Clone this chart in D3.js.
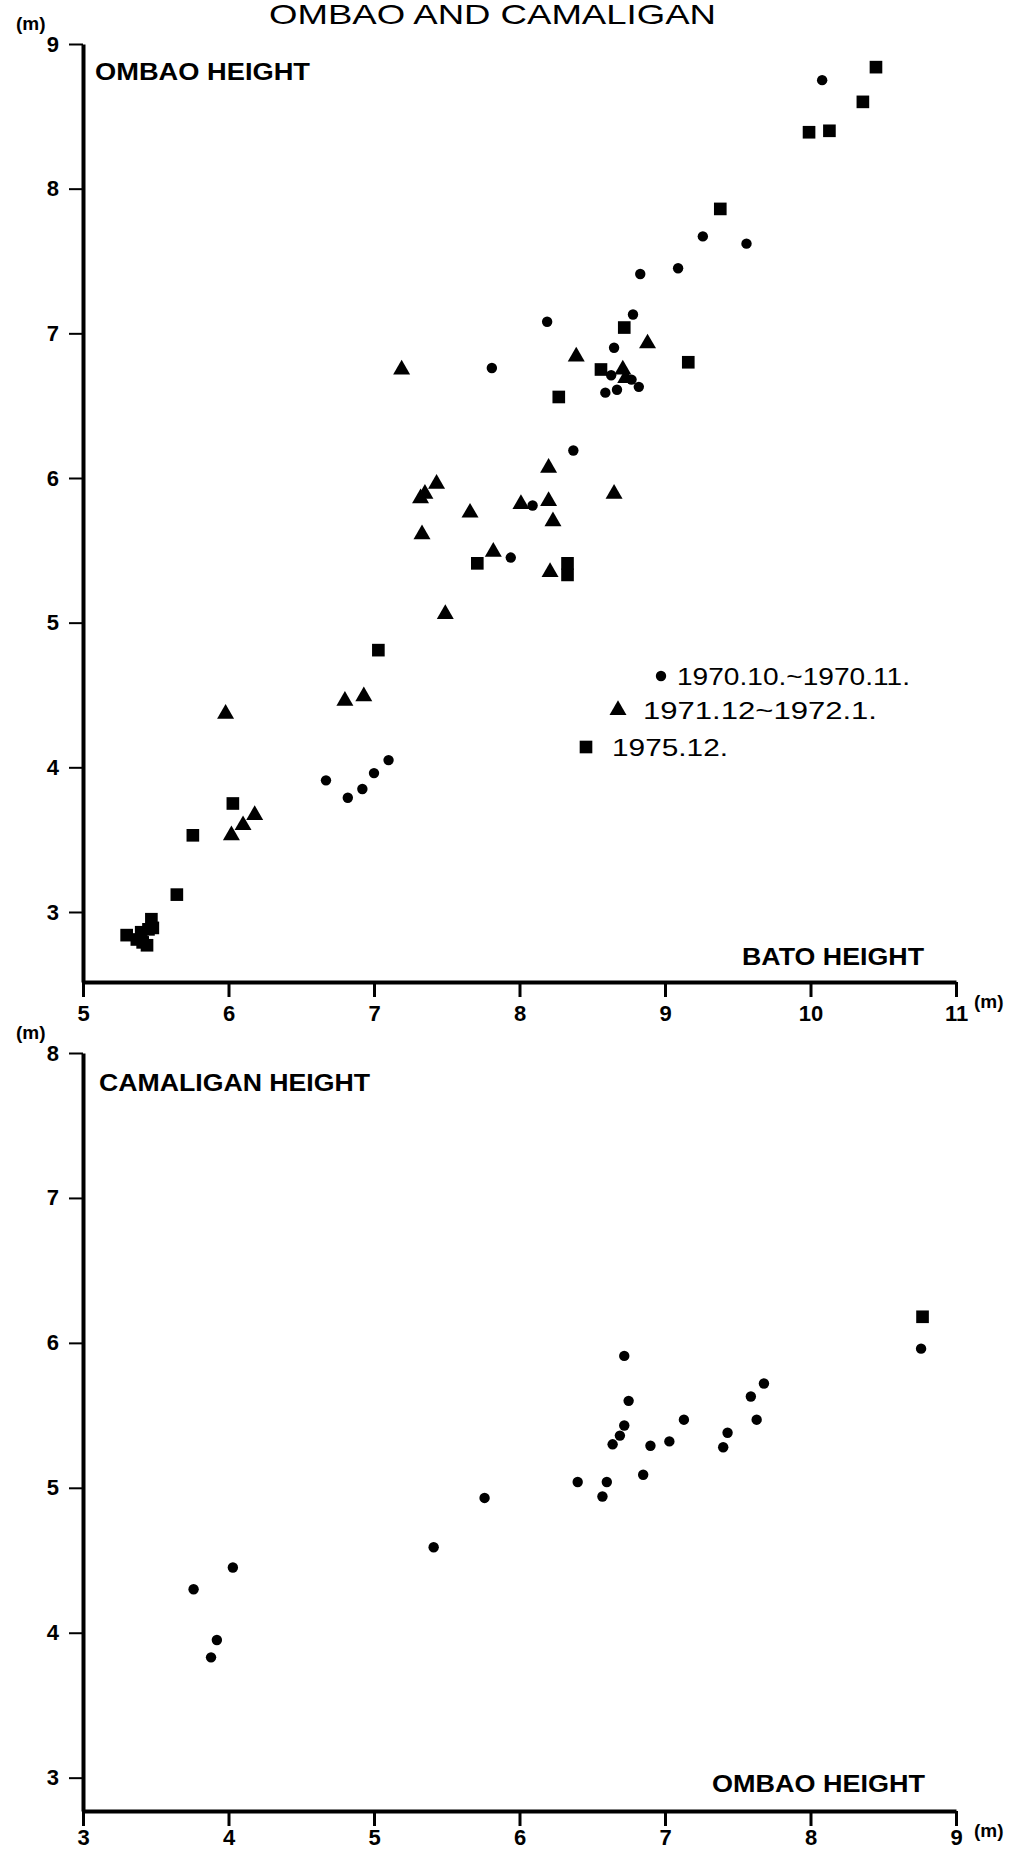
<!DOCTYPE html>
<html>
<head>
<meta charset="utf-8">
<script src="https://cdn.jsdelivr.net/npm/d3@7"></script>
<style>
  body { margin: 0; background: #fff; }
  svg text { font-family: "Liberation Sans Narrow", "Liberation Sans", Arial, sans-serif; fill: #000; }
  .tick text { font-weight: bold; font-size: 22px; }
</style>
</head>
<body>
<div id="chart"></div>
<script>
// ombao vs bato, three survey periods
var batoCircle = [[10.08,8.75],[9.56,7.62],[9.26,7.67],[9.09,7.45],[8.83,7.41],[8.78,7.13],[8.65,6.90],
  [8.63,6.71],[8.67,6.61],[8.59,6.59],[8.77,6.68],[8.82,6.63],[8.19,7.08],[7.81,6.76],[8.37,6.19],
  [8.09,5.81],[7.94,5.45],[6.67,3.91],[6.82,3.79],[6.92,3.85],[7.0,3.96],[7.1,4.05]];
var batoTriangle = [[7.19,6.75],[8.39,6.84],[8.88,6.93],[8.71,6.75],[8.73,6.69],[8.65,5.89],[8.2,6.07],
  [8.2,5.84],[8.23,5.70],[8.01,5.82],[7.66,5.76],[7.43,5.96],[7.35,5.89],[7.32,5.86],[7.33,5.61],
  [7.82,5.49],[8.21,5.35],[7.49,5.06],[6.8,4.46],[6.93,4.49],[5.98,4.37],[6.02,3.53],[6.1,3.6],[6.18,3.67]];
var batoSquare = [[10.45,8.84],[10.36,8.60],[10.13,8.40],[9.99,8.39],[9.38,7.86],[9.16,6.80],[8.72,7.04],
  [8.56,6.75],[8.27,6.56],[7.71,5.41],[8.33,5.41],[8.33,5.33],[7.03,4.81],[6.03,3.75],[5.755,3.53],
  [5.645,3.12],[5.30,2.84],[5.37,2.81],[5.44,2.77],[5.47,2.95],[5.45,2.88],[5.40,2.86],[5.48,2.89],[5.41,2.79]];

// camaligan vs ombao
var ombaoCircle = [[3.76,4.30],[4.03,4.45],[3.92,3.95],[3.88,3.83],[5.41,4.59],[5.76,4.93],[6.40,5.04],
  [6.57,4.94],[6.60,5.04],[6.64,5.30],[6.69,5.36],[6.72,5.43],[6.75,5.60],[6.72,5.91],[6.85,5.09],
  [6.90,5.29],[7.03,5.32],[7.13,5.47],[7.40,5.28],[7.43,5.38],[7.59,5.63],[7.63,5.47],[7.68,5.72],[8.76,5.96]];
var ombaoSquare = [[8.77,6.18]];

var topXTicks = [5,6,7,8,9,10,11];
var topYTicks = [3,4,5,6,7,8,9];
var botXTicks = [3,4,5,6,7,8,9];
var botYTicks = [3,4,5,6,7,8];

var legendLabels = ["1970.10.~1970.11.", "1971.12~1972.1.", "1975.12."];

var width = 1028, height = 1852;

var svg = d3.select("#chart").append("svg")
    .attr("width", width)
    .attr("height", height);

var symCircle = d3.symbol().type(d3.symbolCircle).size(85);
var symTri = d3.symbol().type(d3.symbolTriangle).size(125);
var symSq = d3.symbol().type(d3.symbolSquare).size(160);

// title at the page top
svg.append("text")
    .attr("x", 269).attr("y", 24)
    .attr("textLength", 447).attr("lengthAdjust", "spacingAndGlyphs")
    .style("font-size", "28px")
    .text("OMBAO  AND  CAMALIGAN");

function drawPanel(opt) {
    var x = d3.scaleLinear().domain(opt.xDomain).range([83, 956]);
    var y = d3.scaleLinear().domain(opt.yDomain).range(opt.yRange);

    var yAxis = d3.axisLeft(y).tickValues(opt.yTicks).tickSize(14).tickSizeOuter(0).tickPadding(10)
        .tickFormat(d3.format("d"));
    var gy = svg.append("g")
        .attr("transform", "translate(83,0)")
        .call(yAxis);
    gy.select(".domain").attr("stroke-width", 4);
    gy.selectAll(".tick line").attr("stroke-width", 2);

    var xAxis = d3.axisBottom(x).tickValues(opt.xTicks).tickSize(15).tickSizeOuter(0).tickPadding(opt.xPad)
        .tickFormat(d3.format("d"));
    var gx = svg.append("g")
        .attr("transform", `translate(0, ${opt.yRange[0]})`)
        .call(xAxis);
    gx.select(".domain").attr("stroke-width", 4);
    gx.selectAll(".tick line").attr("stroke-width", 3);

    // (m) unit marks
    svg.append("text").attr("x", 16).attr("y", opt.yRange[1] - 14)
        .style("font-size", "19px").style("font-weight", "bold").text("(m)");
    svg.append("text").attr("x", 974).attr("y", opt.yRange[0] + 26)
        .style("font-size", "19px").style("font-weight", "bold").text("(m)");

    svg.append("text").attr("x", opt.yLabel.x).attr("y", opt.yLabel.y)
        .attr("textLength", opt.yLabel.w).attr("lengthAdjust", "spacingAndGlyphs")
        .style("font-size", "23px").style("font-weight", "bold").text(opt.yLabel.t);
    svg.append("text").attr("x", opt.xLabel.x).attr("y", opt.xLabel.y)
        .attr("textLength", opt.xLabel.w).attr("lengthAdjust", "spacingAndGlyphs")
        .style("font-size", "23px").style("font-weight", "bold").text(opt.xLabel.t);

    opt.series.forEach(function(s) {
        svg.append("g").selectAll("path")
            .data(s.data)
            .enter()
            .append("path")
            .attr("transform", d => `translate(${x(d[0])},${y(d[1])})`)
            .attr("d", s.sym)
            .style("fill", "#000");
    });
}

drawPanel({
    xDomain: [5, 11], yDomain: [2.516, 9], yRange: [982, 44], xPad: 8,
    xTicks: topXTicks, yTicks: topYTicks,
    yLabel: {t: "OMBAO  HEIGHT", x: 95, y: 80, w: 215},
    xLabel: {t: "BATO  HEIGHT", x: 742, y: 965, w: 182},
    series: [
        {data: batoCircle, sym: symCircle},
        {data: batoTriangle, sym: symTri},
        {data: batoSquare, sym: symSq}
    ]
});

drawPanel({
    xDomain: [3, 9], yDomain: [2.77, 8], yRange: [1811, 1053], xPad: 3,
    xTicks: botXTicks, yTicks: botYTicks,
    yLabel: {t: "CAMALIGAN  HEIGHT", x: 99, y: 1091, w: 271},
    xLabel: {t: "OMBAO  HEIGHT", x: 712, y: 1792, w: 213},
    series: [
        {data: ombaoCircle, sym: symCircle},
        {data: ombaoSquare, sym: symSq}
    ]
});

// legend of the upper panel
var legend = svg.append("g");
var legSyms = [symCircle, symTri, symSq];
var legPos = [[661, 676, 677, 233], [618, 710, 643, 234], [586, 747, 612, 116]];
legendLabels.forEach(function(t, i) {
    var p = legPos[i];
    legend.append("path")
        .attr("transform", `translate(${p[0]},${p[1]})`)
        .attr("d", legSyms[i])
        .style("fill", "#000");
    legend.append("text")
        .attr("x", p[2]).attr("y", p[1] + 9)
        .attr("textLength", p[3]).attr("lengthAdjust", "spacingAndGlyphs")
        .style("font-size", "24px")
        .text(t);
});
</script>
</body>
</html>
